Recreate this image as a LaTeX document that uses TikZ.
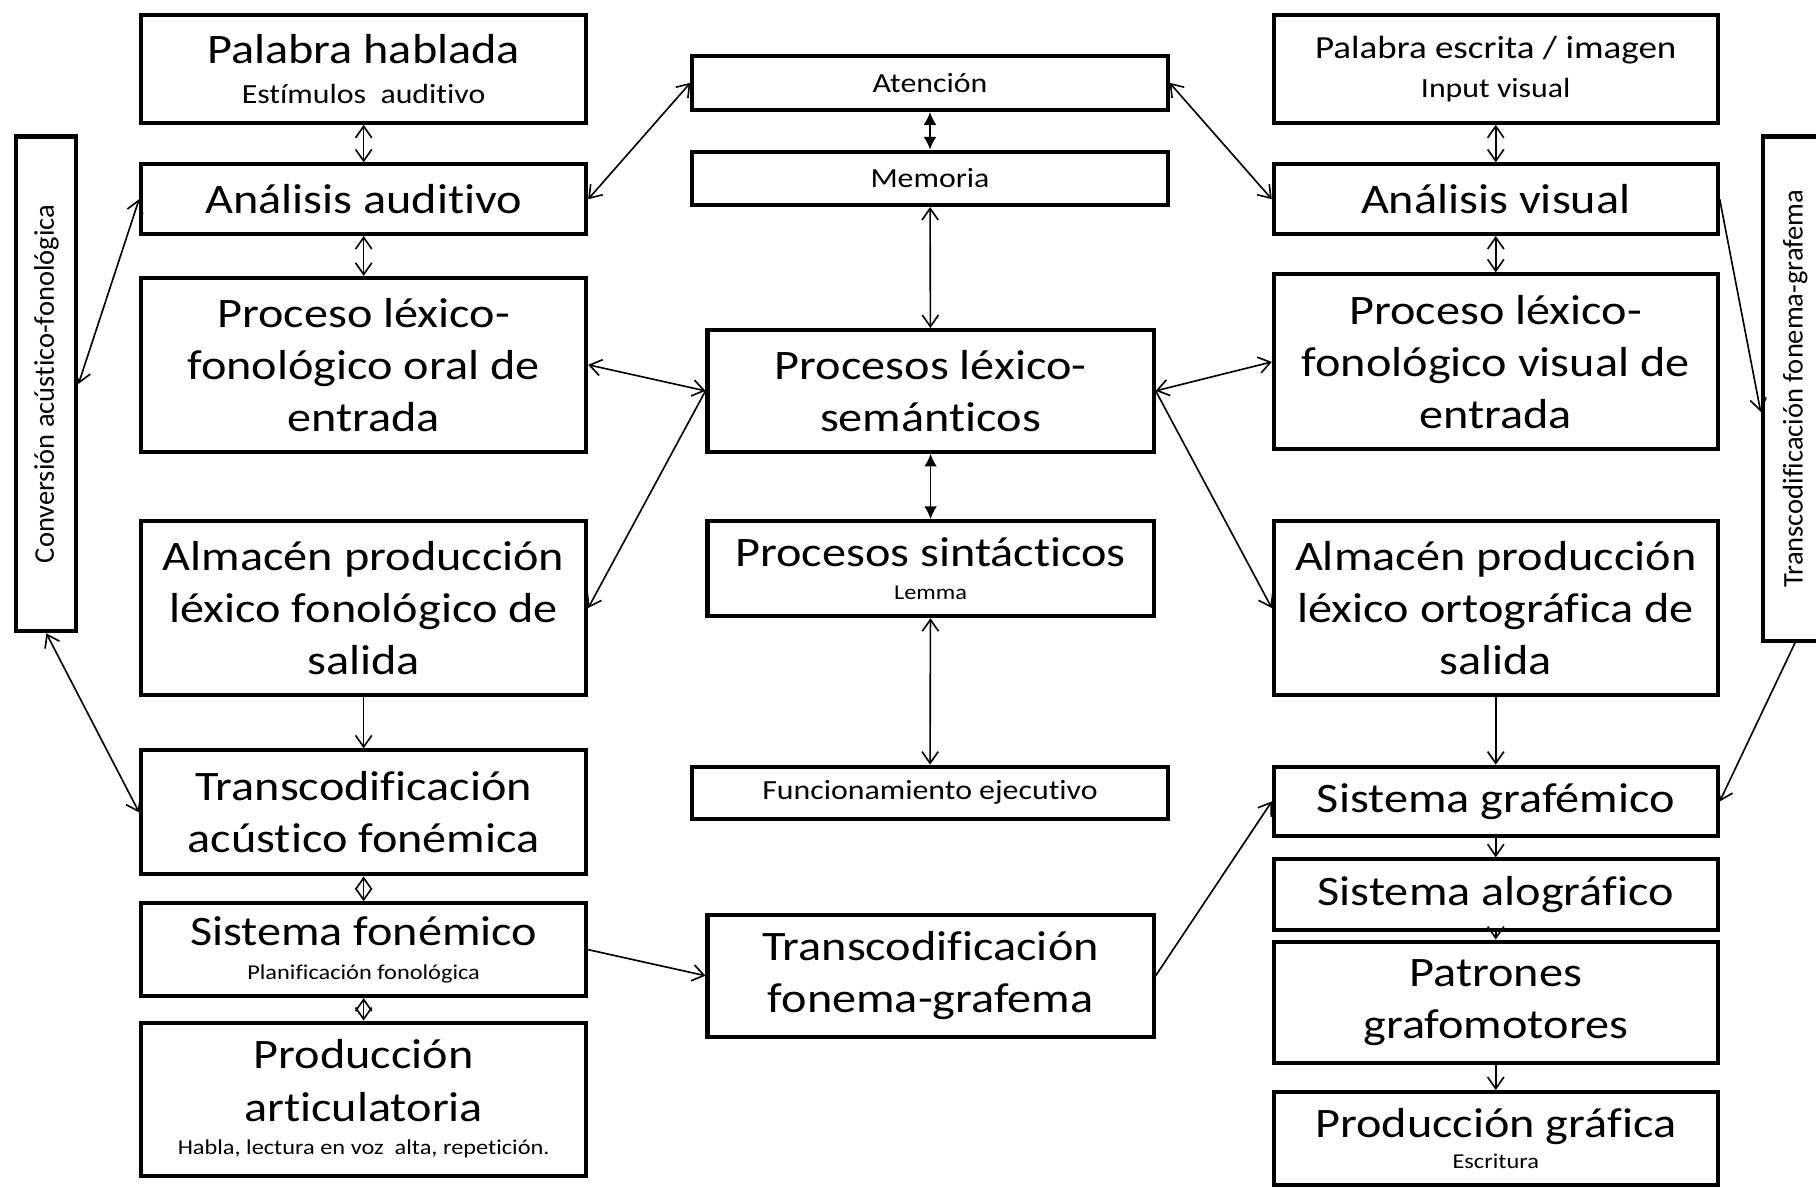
\documentclass[tikz,border=0pt]{standalone}
\usepackage{fontspec}
\setmainfont[FakeStretch=1.15, Ligatures=NoCommon, RawFeature={-liga;-clig;-dlig;-calt}]{Carlito}
\newfontfamily\sidefont[Ligatures=NoCommon, RawFeature={-liga;-clig;-dlig;-calt}]{Carlito}
\usetikzlibrary{arrows.meta}

\newcommand{\bigtxt}{\fontsize{10.3}{12.8}\selectfont}
\newcommand{\midtxt}{\fontsize{7.9}{9.7}\selectfont}
\newcommand{\smalltxt}{\fontsize{6.8}{8}\selectfont}
\newcommand{\tinytxt}{\fontsize{5.2}{6.4}\selectfont}

\begin{document}
\begin{tikzpicture}[x=0.01cm, y=-0.01cm, line width=0.4pt,
        >={Straight Barb[length=1mm,width=1.4mm]},
        procbox/.style={draw, line width=1pt, align=center, inner sep=0pt, font=\bigtxt},
        lbox/.style={procbox, minimum width=3.84cm},
        cbox/.style={procbox, minimum width=3.85cm},
        wbox/.style={procbox, minimum width=4.1cm, font=\smalltxt},
        rbox/.style={procbox, minimum width=3.83cm},
        sidebox/.style={procbox, rotate=90, font=\sidefont\fontsize{7}{8}\selectfont},
        solidlink/.style={{Latex[length=1.1mm,width=1.1mm]}-{Latex[length=1.1mm,width=1.1mm]}}]
        \useasboundingbox (0,0) rectangle (1568,1025);

        % Draw the oral (left) column
        \node[lbox, minimum height=0.93cm] (habl) at (314,59.5) {Palabra hablada\\[-3pt]{\smalltxt Estímulos\ \ auditivo}};
        \node[lbox, minimum height=0.6cm] (audit) at (314,172) {Análisis auditivo};
        \node[lbox, minimum height=1.5cm] (oral) at (314,315) {Proceso léxico-\\fonológico oral de\\entrada};
        \node[lbox, minimum height=1.5cm] (almfon) at (314,525) {Almacén producción\\léxico fonológico de\\salida};
        \node[lbox, minimum height=1.07cm] (acust) at (314,701.5) {Transcodificación\\acústico fonémica};
        \node[lbox, minimum height=0.8cm] (fonem) at (314,820) {Sistema fonémico\\[-4.5pt]{\tinytxt Planificación fonológica}};
        \node[lbox, minimum height=1.32cm] (artic) at (314,949) {Producción\\articulatoria\\[-4.5pt]{\tinytxt Habla, lectura en voz\ \ alta, repetición.}};

        % Draw the central column
        \node[wbox, minimum height=0.47cm] (aten) at (803,71.5) {Atención};
        \node[wbox, minimum height=0.46cm] (memo) at (803,154) {Memoria};
        \node[cbox, minimum height=1.05cm] (sem) at (803.5,337.5) {Procesos léxico-\\semánticos};
        \node[cbox, minimum height=0.82cm] (sint) at (803.5,491) {Procesos sintácticos\\[-4.5pt]{\tinytxt Lemma}};
        \node[wbox, minimum height=0.45cm] (ejec) at (803,684.5) {Funcionamiento ejecutivo};
        \node[cbox, minimum height=1.05cm] (fgraf) at (803.5,842.5) {Transcodificación\\fonema-grafema};

        % Draw the written (right) column
        \node[rbox, minimum height=0.93cm, font=\midtxt] (escr) at (1291.5,59.5) {Palabra escrita / imagen\\{\smalltxt Input visual}};
        \node[rbox, minimum height=0.6cm] (visan) at (1291.5,172) {Análisis visual};
        \node[rbox, minimum height=1.51cm] (visual) at (1291.5,312.5) {Proceso léxico-\\fonológico visual de\\entrada};
        \node[rbox, minimum height=1.5cm] (almort) at (1291.5,525) {Almacén producción\\léxico ortográfica de\\salida};
        \node[rbox, minimum height=0.6cm] (grafe) at (1291.5,692) {Sistema grafémico};
        \node[rbox, minimum height=0.61cm] (alog) at (1291.5,772.5) {Sistema alográfico};
        \node[rbox, minimum height=1.05cm] (patr) at (1291.5,865.5) {Patrones\\grafomotores};
        \node[rbox, minimum height=0.8cm] (prodg) at (1291.5,983) {Producción gráfica\\[-5pt]{\tinytxt Escritura}};

        % Draw the two upright side boxes
        \node[sidebox, minimum width=4.27cm, minimum height=0.52cm] (conv) at (40,331.5) {Conversión acústico-fonológica};
        \node[sidebox, minimum width=4.35cm, minimum height=0.56cm] (tfg) at (1550,335.5) {Transcodificación fonema-grafema};

        % Draw the links on the left
        \draw[<->] (habl) -- (audit);
        \draw[<->] (audit) -- (oral);
        \draw[<->] (conv.south) -- (audit.west);
        \draw[<->] (conv.west) -- (acust.west);
        \draw[->] (almfon) -- (acust);
        \draw[<->] (acust) -- (fonem);
        \draw[<->] (fonem) -- (artic);

        % Draw the links to and from the centre
        \draw[<->] (audit.east) -- (aten.west);
        \draw[<->] (aten.east) -- (visan.west);
        \draw[solidlink] (aten) -- (memo);
        \draw[<->] (memo) -- (sem);
        \draw[<->] (oral.east) -- (sem.west);
        \draw[<->] (sem.east) -- (visual.west);
        \draw[->] (sem.west) -- (almfon.east);
        \draw[->] (sem.east) -- (almort.west);
        \draw[solidlink] (sem) -- (sint);
        \draw[<->] (sint) -- (ejec);
        \draw[->] (fonem.east) -- (fgraf.west);
        \draw[->] (fgraf.east) -- (grafe.west);

        % Draw the links on the right
        \draw[<->] (escr) -- (visan);
        \draw[<->] (visan) -- (visual);
        \draw[->] (visan.east) -- ([yshift=-0.2cm]tfg.north);
        \draw[->] (tfg.west) -- (grafe.east);
        \draw[->] (almort) -- (grafe);
        \draw[->] (grafe) -- (alog);
        \draw[->] (alog) -- (patr);
        \draw[->] (patr) -- (prodg);
\end{tikzpicture}
\end{document}
